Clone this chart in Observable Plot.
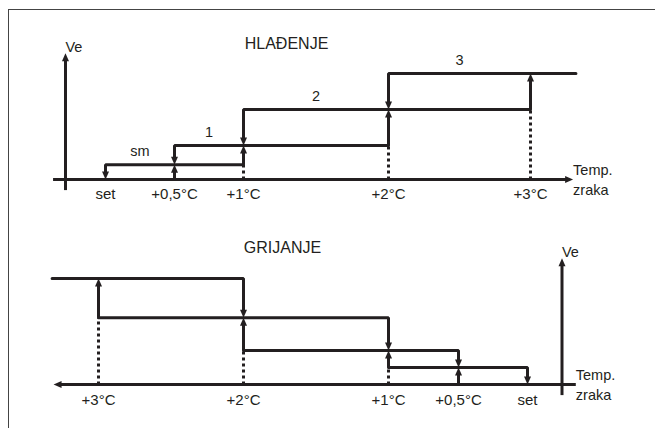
<!DOCTYPE html>
<html><head><meta charset="utf-8">
<script src="https://cdn.jsdelivr.net/npm/d3@7"></script>
<script src="https://cdn.jsdelivr.net/npm/@observablehq/plot@0.6"></script>
<style>
body{margin:0;background:#fff;}
#wrap{position:relative;width:655px;height:428px;overflow:hidden;background:#fff;}
#frame{position:absolute;left:8px;top:9px;right:-2px;bottom:-2px;border-top:1px solid #444;border-left:1px solid #444;}
.panel{position:absolute;left:0;}
</style></head><body>
<div id="wrap"><div id="frame"></div><div id="top" class="panel" style="top:0"></div><div id="bottom" class="panel" style="top:214px"></div></div>
<script>
// ---- data ----
const tempValues = [0, 0.5, 1, 2, 3];               // °C above set point
const tempLabels = ["set", "+0,5°C", "+1°C", "+2°C", "+3°C"];
const stageNames = ["sm", "1", "2", "3"];
const coolingLevels = [14, 32, 66, 100];          // Ve per stage (% of max), cooling
const heatingLevels = [16, 32, 63, 100];          // Ve per stage (% of max), heating
const titles = ["HLAĐENJE", "GRIJANJE"];
const veName = "Ve";
const tempName = "Temp.\nzraka";

const ink = "#231f20";
const FONT = "'Liberation Sans', Arial, sans-serif";

const headUp    = {draw(c){c.moveTo(0,0);c.lineTo(3.5,8);c.lineTo(-3.5,8);c.closePath();}};
const headDown  = {draw(c){c.moveTo(0,0);c.lineTo(3.5,-8);c.lineTo(-3.5,-8);c.closePath();}};
const headRight = {draw(c){c.moveTo(0,0);c.lineTo(-8,3.5);c.lineTo(-8,-3.5);c.closePath();}};
const headLeft  = {draw(c){c.moveTo(0,0);c.lineTo(8,3.5);c.lineTo(8,-3.5);c.closePath();}};

function panel(el, levels, title, cfg) {
  const W = 655, H = 214;
  // piecewise temperature axis (tick spacing of the drawing)
  const warp = d3.scaleLinear().domain(tempValues).range(cfg.xRange);
  const unwarp = d3.scaleLinear().domain(cfg.xRange).range(tempValues);
  const ys = d3.scaleLinear().domain([0, 100]).range(cfg.yRange);
  const HEAD = 6;
  const shortY = (from, to) => ys.invert(ys(to) + (ys(from) > ys(to) ? HEAD : -HEAD));
  const shortX = (from, to) => unwarp(warp(to) + (warp(from) > warp(to) ? HEAD : -HEAD));

  const n = stageNames.length;
  const paths = [], ups = [], dotted = [], headsUp = [], headsDown = [], labels = [];
  for (let i = 0; i < n; i++) {
    const off = tempValues[i], on = tempValues[i + 1];
    const prev = i ? levels[i - 1] : 0;
    const next = i < n - 1 ? tempValues[i + 2] : cfg.lineEnd;
    paths.push({s: i, t: off, v: shortY(levels[i], prev)});
    paths.push({s: i, t: off, v: levels[i]});
    paths.push({s: i, t: next, v: levels[i]});
    headsDown.push({t: off, v: prev});
    ups.push({t: on, v1: prev, v2: shortY(prev, levels[i])});
    headsUp.push({t: on, v: levels[i]});
    if (i) dotted.push({t: on, v1: 0, v2: prev});
    labels.push({t: (off + on) / 2, v: levels[i], text: stageNames[i]});
  }

  const axisHead = cfg.xRange[0] < cfg.xRange[1] ? headRight : headLeft;
  const plot = Plot.plot({
    width: W, height: H, margin: 0,
    x: {type: "linear", domain: [0, W], range: [0, W], transform: warp, axis: null},
    y: {domain: [0, 100], range: cfg.yRange, axis: null},
    style: {fontFamily: FONT, background: "transparent", overflow: "visible"},
    marks: [
      Plot.link([0], {x1: () => cfg.axisStart, x2: () => shortX(cfg.axisStart, cfg.axisEnd), y1: () => 0, y2: () => 0, stroke: ink, strokeWidth: 3}),
      Plot.dot([0], {x: () => cfg.axisEnd, y: () => 0, symbol: axisHead, fill: ink, stroke: "none", r: 4}),
      Plot.link([0], {x1: () => cfg.veAt, x2: () => cfg.veAt, y1: () => -10, y2: () => shortY(-10, 119), stroke: ink, strokeWidth: 3}),
      Plot.dot([0], {x: () => cfg.veAt, y: () => 119, symbol: headUp, fill: ink, stroke: "none", r: 4}),
      Plot.link(dotted, {x1: "t", x2: "t", y1: "v1", y2: "v2", stroke: ink, strokeWidth: 3, strokeDasharray: "3,3"}),
      Plot.line(paths, {x: "t", y: "v", z: "s", stroke: ink, strokeWidth: 3, strokeLinejoin: "miter", curve: "linear"}),
      Plot.link(ups, {x1: "t", x2: "t", y1: "v1", y2: "v2", stroke: ink, strokeWidth: 3}),
      Plot.dot(headsUp, {x: "t", y: "v", symbol: headUp, fill: ink, stroke: "none", r: 4}),
      Plot.dot(headsDown, {x: "t", y: "v", symbol: headDown, fill: ink, stroke: "none", r: 4}),
      cfg.stageLabels ? Plot.text(labels, {x: "t", y: "v", text: "text", dy: -13, fontSize: 14.5, fill: ink}) : null,
      Plot.text(tempValues, {x: d => d, y: () => 0, text: (d, i) => tempLabels[i], dy: cfg.tickDy, fontSize: 15, fill: ink}),
      Plot.text([veName], {x: () => cfg.veAt, y: () => 119, text: d => d, dx: 0, dy: -6, textAnchor: "start", fontSize: 14.5, fill: ink}),
      Plot.text([tempName], {x: () => cfg.tempAt, y: () => 0, text: d => d, dy: -1, textAnchor: "start", lineHeight: 1.4, fontSize: 14.5, fill: ink}),
      Plot.text([title], {frameAnchor: "top-left", dx: cfg.titleX, dy: cfg.titleY, text: d => d, textAnchor: "middle", lineAnchor: "middle", fontSize: 16, fill: ink})
    ]
  });
  el.appendChild(plot);
}

panel(document.getElementById("top"), coolingLevels, titles[0], {
  xRange: [105, 174, 243, 388, 530], yRange: [179, 73],
  axisStart: -0.38, axisEnd: 3.30, lineEnd: 3.32, veAt: -0.29, tempAt: 3.30,
  tickDy: 15, titleX: 286, titleY: 43, stageLabels: true
});
panel(document.getElementById("bottom"), heatingLevels, titles[1], {
  xRange: [527, 458, 388, 243, 98], yRange: [170, 64],
  axisStart: -0.35, axisEnd: 3.31, lineEnd: 3.32, veAt: -0.25, tempAt: -0.35,
  tickDy: 16, titleX: 282, titleY: 33, stageLabels: false
});
</script>
</body></html>
